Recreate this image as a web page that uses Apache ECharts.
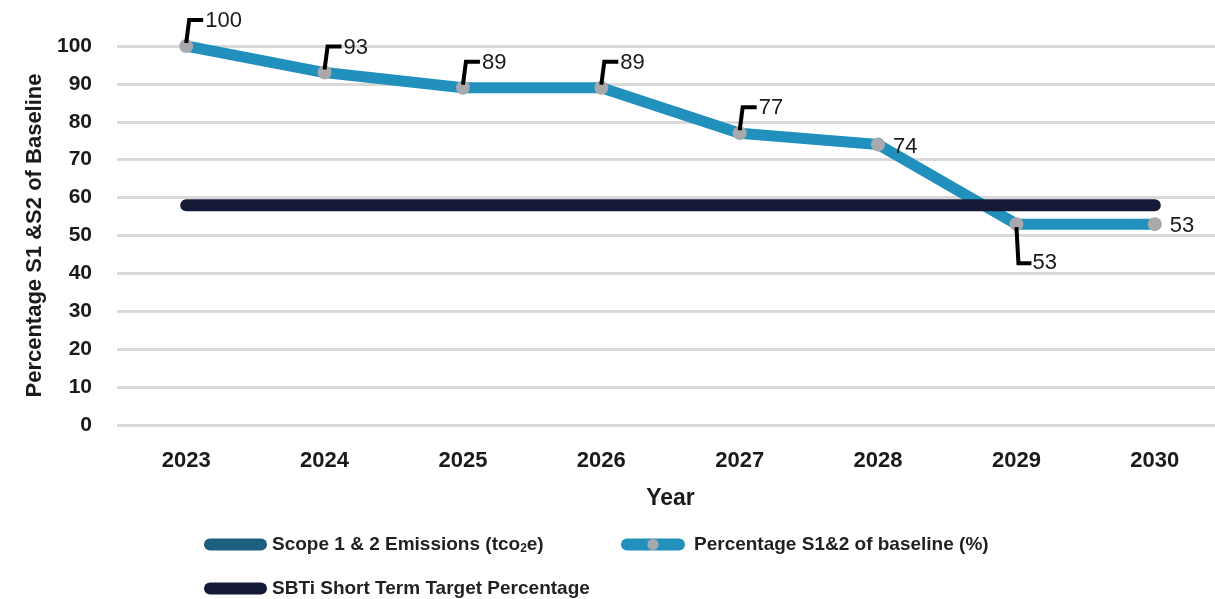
<!DOCTYPE html>
<html>
<head>
<meta charset="utf-8">
<title>Percentage S1 & S2 of Baseline</title>
<script src="https://cdn.jsdelivr.net/npm/echarts@6/dist/echarts.min.js"></script>
<style>
  html, body { margin: 0; padding: 0; background: #fff; }
  #main { width: 1215px; height: 599px; }
</style>
</head>
<body>
<div id="main"></div>
<script>
// data
var years = ["2023", "2024", "2025", "2026", "2027", "2028", "2029", "2030"];
var emissions = []; // in the legend only, no visible values
var percentBaseline = [100, 93, 89, 89, 77, 74, 53, 53];
var sbtiTarget = [58, 58, 58, 58, 58, 58, 58, 58];
var yMin = 0, yMax = 100, yStep = 10;

// where each data label sits (callout up, plain right, callout down)
var calloutKind = ["up", "up", "up", "up", "up", "right", "down", "right"];

var FONT = "'Liberation Sans', Arial, sans-serif";
var PILL = "path://M6,0H57A6,6 0 0 1 57,12H6A6,6 0 0 1 6,0Z";
var chart = echarts.init(document.getElementById("main"));

function renderCallout(params, api) {
  var p = api.coord([api.value(0), api.value(1)]);
  var kind = calloutKind[params.dataIndex];
  var kids = [];
  var tx = p[0] + 15, ty = p[1] + 2;
  if (kind === "up") {
    kids.push({
      type: "polyline",
      shape: { points: [[p[0], p[1] - 3], [p[0] + 3, p[1] - 26], [p[0] + 17, p[1] - 26]] },
      style: { stroke: "#000", lineWidth: 4, fill: null }
    });
    tx = p[0] + 19; ty = p[1] - 25;
  } else if (kind === "down") {
    kids.push({
      type: "polyline",
      shape: { points: [[p[0], p[1] + 3], [p[0] + 2, p[1] + 39], [p[0] + 15, p[1] + 39]] },
      style: { stroke: "#000", lineWidth: 4, fill: null }
    });
    tx = p[0] + 16; ty = p[1] + 39;
  }
  kids.push({
    type: "text",
    x: tx, y: ty,
    style: {
      text: String(api.value(1)),
      fill: "#1a1a1a",
      font: "22px " + FONT,
      align: "left",
      verticalAlign: "middle"
    }
  });
  return { type: "group", children: kids };
}

var legendText = {
  color: "#231f20",
  fontFamily: FONT,
  fontWeight: "bold",
  fontSize: 19,
  rich: {
    sub: { fontFamily: FONT, fontWeight: "bold", fontSize: 12, color: "#231f20", padding: [8, 0, 0, 0] }
  }
};

chart.setOption({
  animation: false,
  grid: { left: 117, top: 46, width: 1107, height: 379, outerBoundsMode: "none" },
  legend: [
    { data: [{ name: "Scope 1 & 2 Emissions (tco2e)", icon: PILL }], left: 199, top: 530,
      itemWidth: 63, itemHeight: 12, textStyle: legendText,
      formatter: function () { return "Scope 1 & 2 Emissions (tco{sub|2}e)"; } },
    { data: [{ name: "Percentage S1&2 of baseline (%)", lineStyle: { width: 12, cap: "round" } }],
      left: 616, top: 530, itemWidth: 52, itemHeight: 14,
      textStyle: Object.assign({}, legendText, { padding: [0, 0, 0, 10] }) },
    { data: [{ name: "SBTi Short Term Target Percentage", icon: PILL }], left: 199, top: 574,
      itemWidth: 63, itemHeight: 12, textStyle: legendText }
  ],
  xAxis: {
    type: "category",
    data: years,
    boundaryGap: true,
    name: "Year",
    nameLocation: "middle",
    nameGap: 62,
    nameTextStyle: { color: "#1a1a1a", fontFamily: FONT, fontWeight: "bold", fontSize: 23 },
    axisLine: { show: false },
    axisTick: { show: false },
    axisLabel: { color: "#1a1a1a", fontFamily: FONT, fontWeight: "bold", fontSize: 22, margin: 25 }
  },
  yAxis: {
    type: "value",
    min: yMin, max: yMax, interval: yStep,
    name: "Percentage S1 &S2 of Baseline",
    nameLocation: "middle",
    nameGap: 58,
    nameTextStyle: { color: "#1a1a1a", fontFamily: FONT, fontWeight: "bold", fontSize: 22 },
    axisLine: { show: false },
    axisTick: { show: false },
    axisLabel: { color: "#1a1a1a", fontFamily: FONT, fontWeight: "bold", fontSize: 21, margin: 25 },
    splitLine: { lineStyle: { color: "#d9d9d9", width: 3 } }
  },
  series: [
    {
      name: "Scope 1 & 2 Emissions (tco2e)",
      type: "line",
      data: emissions,
      itemStyle: { color: "#1c5f7f" },
      lineStyle: { color: "#1c5f7f", width: 11 }
    },
    {
      name: "Percentage S1&2 of baseline (%)",
      type: "line",
      data: percentBaseline,
      symbol: "circle",
      symbolSize: 14,
      itemStyle: { color: "#a7a9ac" },
      lineStyle: { color: "#2290bd", width: 11 },
      z: 3
    },
    {
      name: "SBTi Short Term Target Percentage",
      type: "line",
      data: sbtiTarget,
      symbol: "none",
      itemStyle: { color: "#151b37" },
      lineStyle: { color: "#151b37", width: 12, cap: "round" },
      z: 4
    },
    {
      type: "custom",
      renderItem: renderCallout,
      data: percentBaseline.map(function (v, i) { return [i, v]; }),
      z: 10,
      silent: true
    }
  ]
});
</script>
</body>
</html>
